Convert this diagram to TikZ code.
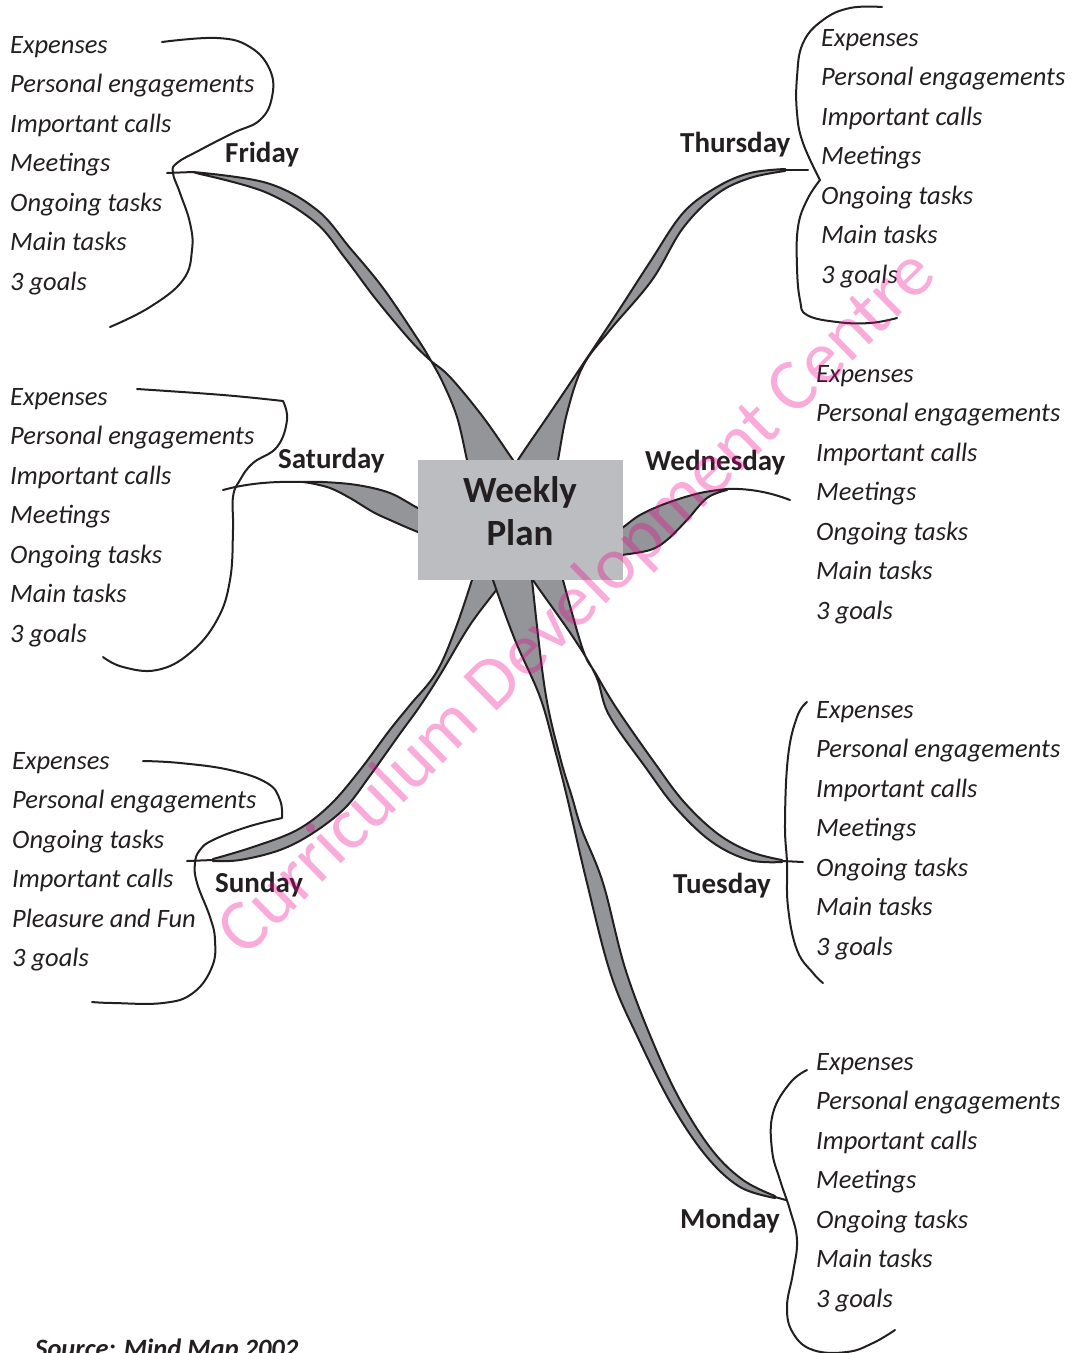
\documentclass[tikz,border=0pt]{standalone}
\usepackage{fontspec}
\setmainfont{Carlito}
\definecolor{ink}{HTML}{231F20}
\definecolor{branchgray}{HTML}{939598}
\definecolor{boxgray}{HTML}{BCBDC0}

% one column of italic entries, placed line by line from the first baseline
\newcommand\DayItems[4]{%
  \foreach \txt [count=\k] in {#4}{%
    \node[listitem] (#3-\k) at (#1,{#2+39.5*(\k-1)}) {\txt};
  }}

\begin{document}
\begin{tikzpicture}[x=1pt,y=-1pt,
  branch/.style={fill=branchgray, draw=ink, line width=2pt, line join=round},
  bracket/.style={draw=ink, line width=2pt, line cap=round, line join=round},
  listitem/.style={anchor=base west, inner sep=0pt, text=ink,
    font=\fontsize{26.5}{30}\selectfont\itshape},
  daylabel/.style={anchor=base west, inner sep=0pt, text=ink,
    font=\fontsize{29}{32}\selectfont\bfseries},
  planbox/.style={fill=boxgray, draw=none, minimum width=205pt,
    minimum height=120pt, inner sep=0pt},
  plantext/.style={anchor=base, inner sep=0pt, text=ink,
    font=\fontsize{37}{40}\selectfont\bfseries},
  sm/.style={smooth, tension=0.6}]

\useasboundingbox (0,0) rectangle (1072,1353);

% ---------- branch tips ----------
\coordinate (fri-tip) at (193,172);
\coordinate (thu-tip) at (785,170);
\coordinate (sat-tip) at (303,482);
\coordinate (wed-tip) at (727,489);
\coordinate (sun-tip) at (213,860);
\coordinate (mon-tip) at (775,1197);
\coordinate (tue-tip) at (782,861);

% ---------- tapered branches ----------
% Sunday
\filldraw[branch] plot[sm] coordinates {(474,572) (472,580) (455,630) (436,673)
  (410,705) (389,731) (360,770) (330,805) (297,830) (253,847) (213,859)}
  -- plot[sm] coordinates {(213,861) (240,860) (280,850) (313,833) (345,808)
  (369,777) (399,735) (420,706) (440,675) (470,625) (500,585) (505,575)} -- cycle;
% Monday
\filldraw[branch] plot[sm] coordinates {(492,572) (493,580) (515,640) (540,697)
  (555,750) (567,797) (587,883) (611,975) (639,1040) (673,1107) (707,1157)
  (740,1187) (775,1198)}
  -- plot[sm] coordinates {(775,1196) (743,1180) (712,1150) (680,1100) (652,1040)
  (625,968) (603,883) (582,830) (572,797) (560,757) (545,690) (532,580) (532,572)} -- cycle;
% Tuesday
\filldraw[branch] plot[sm] coordinates {(531,572) (533,580) (573,637) (596,676)
  (609,715) (646,768) (676,808) (712,842) (749,860) (782,862)}
  -- plot[sm] coordinates {(782,860) (751,852) (718,834) (684,802) (654,762)
  (617,709) (596,674) (583,650) (563,580) (562,572)} -- cycle;
% Friday
\filldraw[branch] plot[sm] coordinates {(469,468) (467,460) (457,417) (443,383)
  (430,359) (417,338) (383,288) (350,248) (317,210) (267,183) (193,172)}
  -- plot[sm] coordinates {(200,174) (265,192) (315,222) (345,258) (375,298)
  (410,340) (430,360) (450,377) (483,417) (513,460) (519,468)} -- cycle;
% Thursday
\filldraw[branch] plot[sm] coordinates {(516,468) (518,460) (550,413) (583,364)
  (617,313) (650,262) (683,213) (717,187) (750,173) (785,169)}
  -- plot[sm] coordinates {(785,171) (750,178) (717,194) (683,228) (652,280)
  (610,330) (583,366) (567,413) (558,460) (556,468)} -- cycle;
% Saturday
\filldraw[branch] plot[sm] coordinates {(426,508) (418,508) (390,493) (357,485)
  (323,482) (303,482)}
  -- plot[sm] coordinates {(310,483) (330,488) (350,498) (373,512) (390,520)
  (418,532) (426,533)} -- cycle;
% Wednesday
\filldraw[branch] plot[sm] coordinates {(615,530) (622,528) (640,515) (667,503)
  (700,493) (727,489)}
  -- plot[sm] coordinates {(727,490) (707,498) (687,520) (667,540) (650,550)
  (622,555) (615,556)} -- cycle;

% ---------- central box ----------
\node[planbox] (plan) at (520.5,520) {};
\node[plantext] (plan-w) at (520,502) {Weekly};
\node[plantext] (plan-p) at (520,545) {Plan};

% ---------- stubs from tips to the braces ----------
\coordinate (fri-end) at (167,173);
\coordinate (thu-end) at (808,170);
\coordinate (sat-end) at (223,490);
\coordinate (wed-end) at (790,500);
\coordinate (sun-end) at (187,861);
\coordinate (tue-end) at (803,862);
\coordinate (mon-end) at (786,1200);
\draw[bracket] (fri-tip) -- (fri-end);
\draw[bracket] (thu-tip) -- (thu-end);
\draw[bracket] (sat-tip) .. controls (270,481) and (245,484) .. (sat-end);
\draw[bracket] (wed-tip) .. controls (750,488) and (772,493) .. (wed-end);
\draw[bracket] (sun-tip) -- (sun-end);
\draw[bracket] (tue-tip) -- (tue-end);
\draw[bracket] (mon-tip) -- (mon-end);

% ---------- braces ----------
% Friday
\draw[bracket] plot[smooth,tension=0.7] coordinates {(162,42) (217,38) (250,47)
  (270,70) (272,97) (260,120) (233,133) (200,150) (177,163) (173,173) (180,193)
  (190,223) (192,250) (183,280) (150,307) (110,327)};
% Saturday
\draw[bracket] plot[smooth,tension=0.7] coordinates {(137,389) (223,395) (283,401)}
  -- plot[smooth,tension=0.7] coordinates {(283,401) (287,420) (277,447) (253,463)
  (240,480) (233,497) (233,530) (230,580) (217,620) (190,653) (157,670) (123,667)
  (103,657)};
% Sunday
\draw[bracket] plot[smooth,tension=0.7] coordinates {(143,761) (180,763) (230,770)
  (267,783) (280,800) (282,818)}
  -- plot[smooth,tension=0.7] coordinates {(282,818) (247,827) (213,840) (200,850)
  (195,863) (197,883) (210,917) (215,940) (212,967) (193,993) (163,1003)
  (113,1003) (92,1002)};
% Thursday
\draw[bracket] plot[smooth,tension=0.7] coordinates {(882,7) (850,8) (823,20)
  (803,43) (797,77) (797,113) (803,143) (820,180)}
  -- plot[smooth,tension=0.7] coordinates {(820,180) (807,200) (798,227) (797,267)
  (800,300) (807,315) (837,322) (870,323) (897,318)};
% Tuesday
\draw[bracket] plot[smooth,tension=0.7] coordinates {(807,702) (797,717) (788,757)
  (785,823) (787,863) (788,907) (797,950) (813,973) (823,983)};
% Monday
\draw[bracket] plot[smooth,tension=0.7] coordinates {(807,1070) (790,1083)
  (773,1113) (772,1150) (780,1180) (790,1210) (797,1240) (793,1273) (787,1307)
  (793,1333) (813,1350) (847,1352) (873,1343) (895,1330)};

% ---------- day labels ----------
\node[daylabel] (fri) at (225,162) {Friday};
\node[daylabel] (sat) at (278,468) {Saturday};
\node[daylabel] (sun) at (215,892) {Sunday};
\node[daylabel] (thu) at (680,152) {Thursday};
\node[daylabel] (wed) at (645,470) {Wednesday};
\node[daylabel] (tue) at (673,893) {Tuesday};
\node[daylabel] (mon) at (680,1228) {Monday};

% ---------- entries ----------
\DayItems{10}{53}{fri}{Expenses,Personal engagements,Important calls,Meetings,Ongoing tasks,Main tasks,3 goals}
\DayItems{10}{405}{sat}{Expenses,Personal engagements,Important calls,Meetings,Ongoing tasks,Main tasks,3 goals}
\DayItems{12}{769}{sun}{Expenses,Personal engagements,Ongoing tasks,Important calls,Pleasure and Fun,3 goals}
\DayItems{821}{46}{thu}{Expenses,Personal engagements,Important calls,Meetings,Ongoing tasks,Main tasks,3 goals}
\DayItems{816}{382}{wed}{Expenses,Personal engagements,Important calls,Meetings,Ongoing tasks,Main tasks,3 goals}
\DayItems{816}{718}{tue}{Expenses,Personal engagements,Important calls,Meetings,Ongoing tasks,Main tasks,3 goals}
\DayItems{816}{1070}{mon}{Expenses,Personal engagements,Important calls,Meetings,Ongoing tasks,Main tasks,3 goals}

% ---------- source line ----------
\node[anchor=base west, inner sep=0pt, text=ink,
  font=\fontsize{26.5}{30}\selectfont\bfseries\itshape] (source) at (35,1357)
  {Source: Mind Map 2002};

% ---------- watermark ----------
\node[rotate=44.5, inner sep=0pt, text=magenta, text opacity=0.33,
  font=\fontsize{74}{80}\selectfont] (mark) at (578,604)
  {Curriculum Development Centre};
\end{tikzpicture}
\end{document}
